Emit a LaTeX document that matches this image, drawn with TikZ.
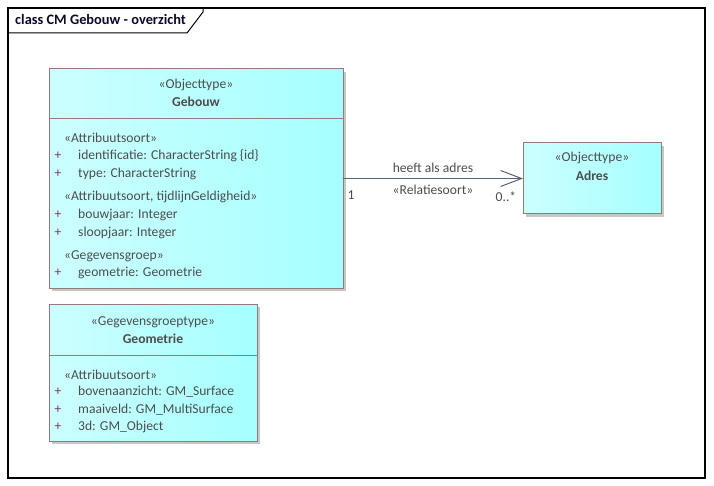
\documentclass[tikz,border=0pt]{standalone}
\usepackage{fontspec}
\setmainfont{Carlito}
\usetikzlibrary{arrows.meta,shadows}

\definecolor{clsleft}{RGB}{204,255,255}
\definecolor{clsright}{RGB}{166,255,255}
\definecolor{clsline}{RGB}{150,122,122}
\definecolor{clstext}{RGB}{77,77,77}
\definecolor{clsplus}{RGB}{125,55,95}
\definecolor{assocline}{RGB}{90,98,120}
\definecolor{titletext}{RGB}{10,10,40}

\tikzset{
	classbox/.style={draw=clsline,line width=1pt,rectangle,inner sep=0,outer sep=0,
		left color=clsleft,right color=clsright,
		drop shadow={shadow xshift=3pt,shadow yshift=-3pt,fill=black!22,opacity=1}},
	divider/.style={draw=clsline,line width=1pt},
	stereo/.style={inner sep=0,text=clstext,font=\fontsize{13.6}{15}\selectfont},
	clsname/.style={stereo,font=\fontsize{13.6}{15}\selectfont\bfseries},
	attr/.style={stereo,anchor=west},
	plus/.style={inner sep=0,text=clsplus,font=\fontsize{13.6}{15}\selectfont},
	assoc/.style={draw=assocline,line width=1pt},
	lbl/.style={inner sep=0,text=clstext,font=\fontsize{13.6}{15}\selectfont}
}

\begin{document}
\begin{tikzpicture}[x=1pt,y=-1pt]
	\useasboundingbox (0,0) rectangle (714,486);
	% frame
	\draw[line width=1.2pt] (8,8) rectangle (705,478);
	\draw[line width=1pt] (8,33) -- (187,33) -- (203,12) -- (203,8);
	\node[anchor=west,inner sep=0,text=titletext,font=\fontsize{14.4}{16}\selectfont\bfseries] (title) at (15,20) {class CM Gebouw - overzicht};

	% Gebouw
	\node[classbox,minimum width=294pt,minimum height=219pt] (gebouw) at (196,178.5) {};
	\draw[divider] (49,119) -- (343,119);
	\node[stereo] (gebouwst) at (196,85) {«Objecttype»};
	\node[clsname] (gebouwnm) at (196,102) {Gebouw};
	\node[attr] (gst1) at (64,138) {«Attribuutsoort»};
	\node[plus] (gp1) at (58,156) {+};
	\node[attr] (ga1) at (78,156) {identificatie: CharacterString \{id\}};
	\node[plus] (gp2) at (58,174) {+};
	\node[attr] (ga2) at (78,174) {type: CharacterString};
	\node[attr] (gst2) at (64,197) {«Attribuutsoort, tijdlijnGeldigheid»};
	\node[plus] (gp3) at (58,215) {+};
	\node[attr] (ga3) at (78,215) {bouwjaar: Integer};
	\node[plus] (gp4) at (58,233) {+};
	\node[attr] (ga4) at (78,233) {sloopjaar: Integer};
	\node[attr] (gst3) at (64,256) {«Gegevensgroep»};
	\node[plus] (gp5) at (58,273) {+};
	\node[attr] (ga5) at (78,273) {geometrie: Geometrie};

	% Adres
	\node[classbox,minimum width=138pt,minimum height=71pt] (adres) at (592,178.5) {};
	\node[stereo] (adresst) at (592,158) {«Objecttype»};
	\node[clsname] (adresnm) at (592,176) {Adres};

	% Geometrie
	\node[classbox,minimum width=208pt,minimum height=137pt] (geometrie) at (153,372.5) {};
	\draw[divider] (49,355) -- (257,355);
	\node[stereo] (geomst) at (153,322) {«Gegevensgroeptype»};
	\node[clsname] (geomnm) at (153,339) {Geometrie};
	\node[attr] (mst1) at (64,375) {«Attribuutsoort»};
	\node[plus] (mp1) at (58,392) {+};
	\node[attr] (ma1) at (78,392) {bovenaanzicht: GM\_Surface};
	\node[plus] (mp2) at (58,410) {+};
	\node[attr] (ma2) at (78,410) {maaiveld: GM\_MultiSurface};
	\node[plus] (mp3) at (58,427) {+};
	\node[attr] (ma3) at (78,427) {3d: GM\_Object};

	% heeft als adres
	\draw[assoc,-{Straight Barb[length=21pt,width=16pt,line width=1pt]}] (gebouw.east |- adres.west) --
		node[lbl,above=5pt] (relnm) {heeft als adres}
		node[lbl,below=6pt] (relst) {«Relatiesoort»} (adres.west);
	\node[lbl] (mult1) at (351,195) {1};
	\node[lbl] (mult2) at (506,197) {0..*};
\end{tikzpicture}
\end{document}
